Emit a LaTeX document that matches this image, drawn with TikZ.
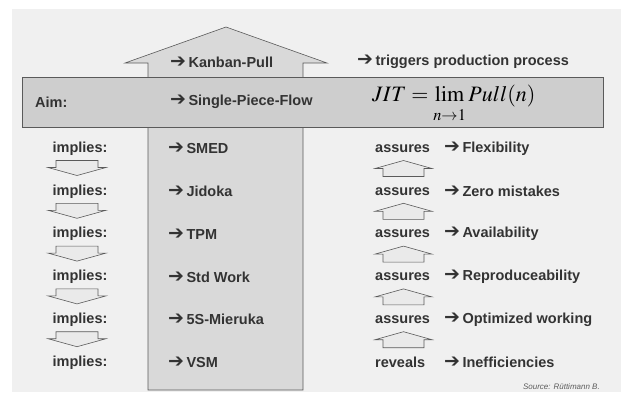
\documentclass[tikz,border=0pt]{standalone}
\usepackage{mathptmx}
\usepackage[no-math]{fontspec}
\setmainfont{Liberation Sans}
\newfontfamily\symfont{DejaVu Sans}
\usetikzlibrary{positioning}

\definecolor{bgcol}{HTML}{F0F0F0}
\definecolor{bigcol}{HTML}{D9D9D9}
\definecolor{smallcol}{HTML}{EAEAEA}
\definecolor{linecol}{HTML}{5A5A5A}
\definecolor{txtcol}{HTML}{333333}

\newcommand{\ra}{{\symfont\fontsize{19}{16}\selectfont ➔}\,}

\tikzset{
  lbl/.style={font=\fontsize{14.5}{16}\selectfont\bfseries, text=txtcol, inner sep=0pt},
  leftlbl/.style={lbl, anchor=west},
  downarr/.style={draw=linecol, fill=smallcol, line width=0.6pt},
  uparr/.style={draw=linecol, fill=smallcol, line width=0.6pt}
}

\begin{document}
\begin{tikzpicture}[x=1pt,y=-1pt]
  \useasboundingbox (0,0) rectangle (621,392);

  % background
  \fill[bgcol] (12,9) rectangle (621,392);

  % big pull arrow
  \draw[linecol, fill=bigcol, line width=0.6pt]
    (148,390) -- (148,63) -- (125,63) -- (226,27) -- (327,63)
    -- (303,63) -- (303,390) -- cycle;

  % aim band
  \draw[linecol, fill=bigcol!95!black, line width=0.6pt] (22,77) rectangle (603,127);

  % top rows
  \node[leftlbl] (kanban) at (170,62) {\ra Kanban-Pull};
  \node[leftlbl] (trig) at (357,62) {\ra triggers production process};
  \node[leftlbl] (aim) at (35,102) {Aim:};
  \node[leftlbl] (spf) at (170,102) {\ra Single-Piece-Flow};
  \node[anchor=west, inner sep=0pt, text=black] (jit) at (372,104)
    {\fontsize{22}{26}\selectfont $\displaystyle JIT=\lim_{\rule{0pt}{15pt}n\rightarrow 1}Pull(n)$};

  % rows
  \foreach \i/\tool/\verb/\res in {0/SMED/assures/Flexibility,
                                   1/Jidoka/assures/Zero mistakes,
                                   2/TPM/assures/Availability,
                                   3/Std Work/assures/Reproduceability,
                                   4/5S-Mieruka/assures/Optimized working,
                                   5/VSM/reveals/Inefficiencies}{
    \pgfmathsetmacro{\yy}{148.5+42.8*\i}
    \node[lbl] (imp\i) at (80,\yy) {implies:};
    \node[leftlbl] (tool\i) at (168,\yy) {\ra\tool};
    \node[leftlbl] (verb\i) at (375,\yy) {\verb};
    \node[leftlbl] (res\i) at (444,\yy) {\ra\res};
  }

  % small arrows between rows
  \foreach \i in {0,...,4}{
    \pgfmathsetmacro{\ym}{148.5+42.8*\i+20}
    % implies (down)
    \draw[downarr] (56,\ym-8) -- (98,\ym-8) -- (98,\ym-1) -- (106,\ym-1)
      -- (77,\ym+7) -- (48,\ym-1) -- (56,\ym-1) -- cycle;
    % assures (up)
    \draw[uparr] (383,\ym+8) -- (424,\ym+8) -- (424,\ym) -- (432,\ym)
      -- (403.5,\ym-8) -- (375,\ym) -- (383,\ym) -- cycle;
  }

  % source
  \node[anchor=east, inner sep=0pt, text=txtcol!80,
        font=\fontsize{8}{9}\selectfont\itshape] (src) at (600,387) {Source: Rüttimann B.};
\end{tikzpicture}
\end{document}
